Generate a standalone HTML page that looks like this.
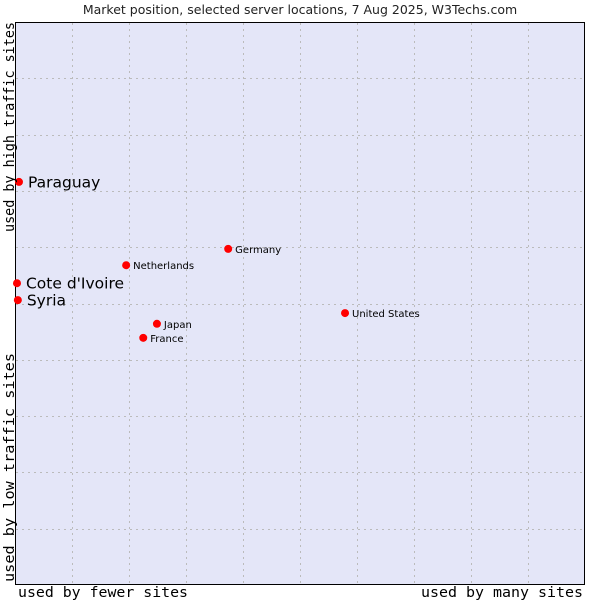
<!DOCTYPE html>
<html><head><meta charset="utf-8"><style>
body{margin:0;background:#fff;width:600px;height:600px;overflow:hidden}
svg{display:block}
</style></head><body>
<svg id="chart" width="600" height="600" xmlns="http://www.w3.org/2000/svg">
<rect x="0" y="0" width="600" height="600" fill="#fff"/>
<text x="300" y="14" text-anchor="middle" font-family="DejaVu Sans, sans-serif" font-size="12.5" fill="#222">Market position, selected server locations, 7 Aug 2025, W3Techs.com</text>
<rect x="15.5" y="22.5" width="569" height="562" fill="#e4e6f8" stroke="#000" stroke-width="1"/>
<g id="grid"></g>
<g id="points"></g>
<text x="18" y="597" textLength="170" lengthAdjust="spacingAndGlyphs" font-family="DejaVu Sans Mono, monospace" font-size="14.5" fill="#000">used by fewer sites</text>
<text x="421" y="597" textLength="162" lengthAdjust="spacingAndGlyphs" font-family="DejaVu Sans Mono, monospace" font-size="14.5" fill="#000">used by many sites</text>
<text transform="translate(14,232) rotate(-90)" textLength="210" lengthAdjust="spacingAndGlyphs" font-family="DejaVu Sans Mono, monospace" font-size="14" fill="#000">used by high traffic sites</text>
<text transform="translate(14,582) rotate(-90)" textLength="229" lengthAdjust="spacingAndGlyphs" font-family="DejaVu Sans Mono, monospace" font-size="14" fill="#000">used by low traffic sites</text>
</svg>
<script>
const names = ["Paraguay","Cote d'Ivoire","Syria","Netherlands","Germany","United States","Japan","France"];
const xValues = [0.7,0.35,0.5,19.5,37.4,57.9,24.9,22.5];
const yValues = [71.6,53.6,50.6,56.8,59.7,48.3,46.4,43.9];
const bigLabel = [true,true,true,false,false,false,false,false];
const gridTicks = [10,20,30,40,50,60,70,80,90];
const NS="http://www.w3.org/2000/svg";
const X0=15,X1=585,Y0=585,Y1=22;
const sx=v=>X0+v/100*(X1-X0);
const sy=v=>Y0-v/100*(Y0-Y1);
const grid=document.getElementById('grid');
gridTicks.forEach(t=>{
  const v=document.createElementNS(NS,'line');
  
  
  const x=Math.round(sx(t))+0.5;
  v.setAttribute('x1',x);v.setAttribute('x2',x);v.setAttribute('y1',Y1+1);v.setAttribute('y2',Y0);
  v.setAttribute('stroke','#bbb');v.setAttribute('stroke-dasharray','2,4');
  grid.appendChild(v);
  const h=document.createElementNS(NS,'line');
  
  
  const y=Math.round(sy(t))+0.5;
  h.setAttribute('x1',X0+1);h.setAttribute('x2',X1);h.setAttribute('y1',y);h.setAttribute('y2',y);
  h.setAttribute('stroke','#bbb');h.setAttribute('stroke-dasharray','2,4');
  grid.appendChild(h);
});
const pts=document.getElementById('points');
names.forEach((n,i)=>{
  const x=sx(xValues[i]),y=sy(yValues[i]);
  const c=document.createElementNS(NS,'circle');
  
  
  c.setAttribute('cx',x);c.setAttribute('cy',y);c.setAttribute('r',4);c.setAttribute('fill','#f00');
  pts.appendChild(c);
  const t=document.createElementNS(NS,'text');
  
  
  t.setAttribute('x',x+(bigLabel[i]?9:7));
  t.setAttribute('y',y+(bigLabel[i]?5.5:4));
  t.setAttribute('font-family','DejaVu Sans, sans-serif');
  t.setAttribute('font-size',bigLabel[i]?15.5:10);
  t.setAttribute('fill','#000');
  t.textContent=n;
  pts.appendChild(t);
});
</script>
</body></html>
